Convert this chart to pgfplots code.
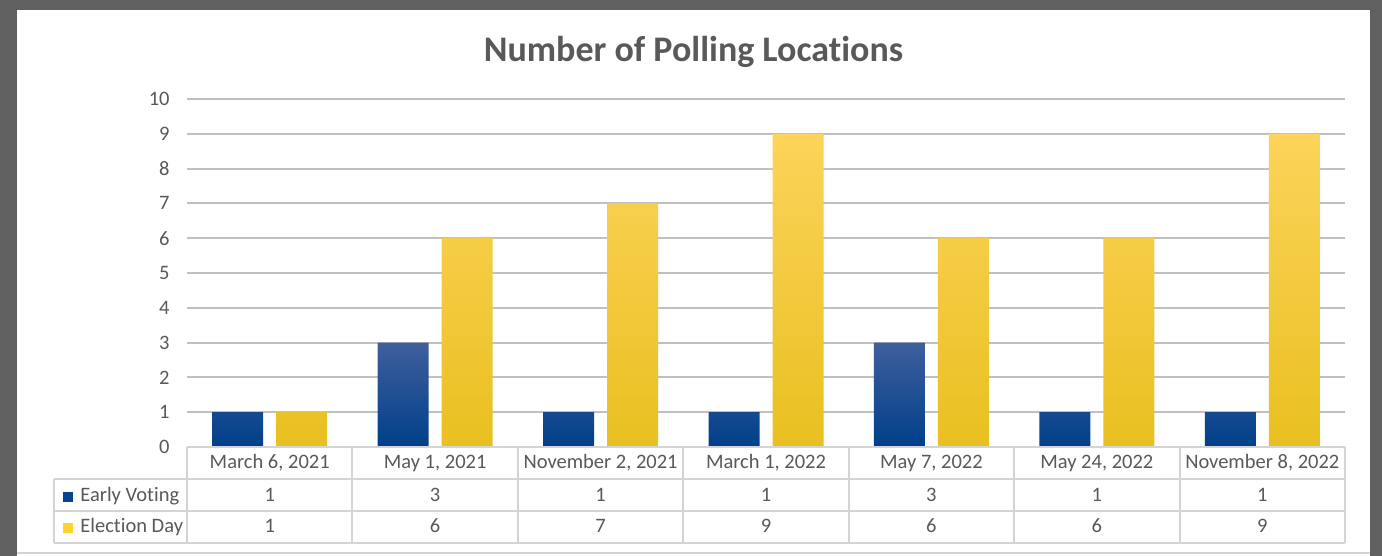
\documentclass[border=0pt]{standalone}
\usepackage{pgfplots}
\pgfplotsset{compat=1.18}
\usepackage{fontspec}
\setmainfont[Ligatures=NoCommon]{Carlito}
\definecolor{txt}{HTML}{595959}
\definecolor{framec}{HTML}{606060}
\definecolor{gridc}{HTML}{C0C0C0}
\definecolor{tabc}{HTML}{D4D4D4}
\definecolor{blueT}{HTML}{3F5F9C}
\definecolor{blueM}{HTML}{034592}
\definecolor{blueB}{HTML}{003F8A}
\definecolor{yelT}{HTML}{FDD35A}
\definecolor{yelM}{HTML}{FDD22C}
\definecolor{yelB}{HTML}{E8C020}
\begin{document}
\begin{tikzpicture}
\begin{scope}[x=0.5pt,y=0.5pt]
\fill[framec] (0,0) rectangle (1382,556);
\fill[white] (17,0) rectangle (1370,546);
\draw[tabc, line width=0.6pt] (17,3) -- (1370,3);
\node[anchor=base, inner sep=0pt, text=txt, font=\fontsize{18}{21}\selectfont\bfseries] at (693.5,494) {Number of Polling Locations};
\end{scope}
\begin{axis}[
  at={(93.5pt,54.5pt)}, anchor=south west,
  scale only axis, width=579pt, height=174pt,
  xmin=-0.5, xmax=6.5, ymin=0, ymax=10,
  ytick={0,1,...,10},
  xtick=data,
  xticklabels={{March 6, 2021},{May 1, 2021},{November 2, 2021},{March 1, 2022},{May 7, 2022},{May 24, 2022},{November 8, 2022}},
  axis line style={draw=none},
  major tick length=0pt,
  ymajorgrids, grid style={gridc, line width=1pt},
  ybar=6.5pt, bar width=25.5pt,
  clip=false,
  tick label style={font=\fontsize{10.25}{12}\selectfont, text=txt},
  /pgf/number format/assume math mode=true,
  yticklabel style={inner sep=0pt, xshift=-8.5pt},
  xticklabel style={anchor=base, inner sep=0pt, yshift=-11pt},
]
\addplot[draw=none, top color=blueT, middle color=blueM, bottom color=blueB] coordinates {(0,1) (1,3) (2,1) (3,1) (4,3) (5,1) (6,1)};
\addplot[draw=none, top color=yelT, middle color=yelM, bottom color=yelB] coordinates {(0,1) (1,6) (2,7) (3,9) (4,6) (5,6) (6,9)};
\end{axis}
\begin{scope}[x=0.5pt,y=0.5pt]
\draw[tabc, line width=1pt] (187,109) -- (1345,109);
\draw[tabc, line width=1pt] (54,77) -- (1345,77);
\draw[tabc, line width=1pt] (54,45) -- (1345,45);
\draw[tabc, line width=1pt] (54,13) -- (1345,13);
\draw[tabc, line width=1pt] (54,77) -- (54,13);
\foreach \k in {0,...,7} {\draw[tabc, line width=1pt] ({187+\k*165.4286},109) -- ({187+\k*165.4286},13);}
\fill[blueM] (63,54) rectangle (73,64);
\fill[yelM] (63,23) rectangle (73,33);
\node[anchor=base west, inner sep=0pt, text=txt, font=\fontsize{10.25}{12}\selectfont] at (80,54) {Early Voting};
\node[anchor=base west, inner sep=0pt, text=txt, font=\fontsize{10.25}{12}\selectfont] at (80,23) {Election Day};
\foreach \i/\a/\b in {0/1/1,1/3/6,2/1/7,3/1/9,4/3/6,5/1/6,6/1/9} {
  \node[anchor=base, inner sep=0pt, text=txt, font=\fontsize{10.25}{12}\selectfont] at ({187+(\i+0.5)*165.4286},54) {\a};
  \node[anchor=base, inner sep=0pt, text=txt, font=\fontsize{10.25}{12}\selectfont] at ({187+(\i+0.5)*165.4286},23) {\b};
}
\end{scope}
\end{tikzpicture}
\end{document}
